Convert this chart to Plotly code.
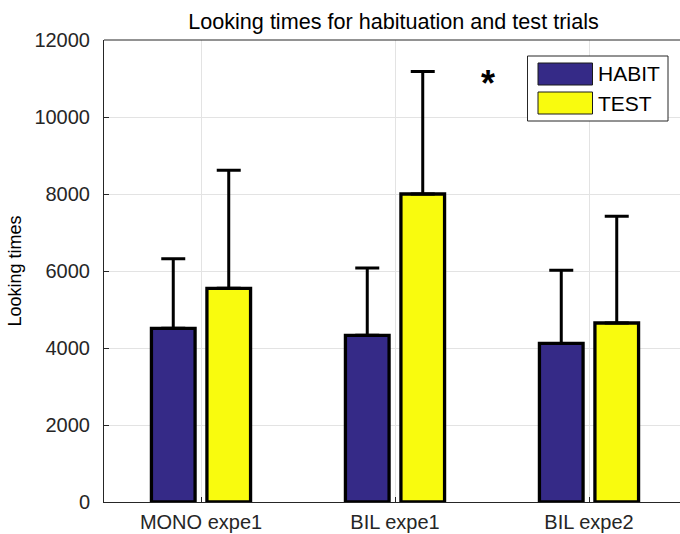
import plotly.graph_objects as go

categories = ["MONO expe1", "BIL expe1", "BIL expe2"]
series_names = ["HABIT", "TEST"]
habit_vals = [4510, 4330, 4120]
test_vals = [5550, 8000, 4650]
habit_err_top = [6320, 6080, 6020]
test_err_top = [8620, 11180, 7420]
y_ticks = [0, 2000, 4000, 6000, 8000, 10000, 12000]
star_label = "*"

colors = ["#352A87", "#F9FB0E"]
xpos = [1, 2, 3]
bar_w = 0.225
half_sep = 0.143

fig = go.Figure()
for name, vals, tops, col, sgn in [
    (series_names[0], habit_vals, habit_err_top, colors[0], -1),
    (series_names[1], test_vals, test_err_top, colors[1], 1),
]:
    fig.add_trace(go.Bar(
        x=xpos, y=vals, name=name,
        width=[bar_w] * 3,
        offset=[sgn * half_sep - bar_w / 2] * 3,
        marker=dict(color=col, line=dict(color="black", width=3.3)),
        error_y=dict(type="data", symmetric=False,
                     array=[t - v for t, v in zip(tops, vals)],
                     arrayminus=[0] * 3,
                     color="black", thickness=3, width=12),
        showlegend=False,
    ))

axis_col = "#262626"
font_family = "Liberation Sans, Arial, sans-serif"

fig.update_layout(
    width=680, height=534,
    margin=dict(l=104, r=0, t=40, b=32, autoexpand=False),
    plot_bgcolor="white", paper_bgcolor="white",
    barmode="overlay",
    font=dict(family=font_family, color=axis_col, size=20),
    title=dict(text="Looking times for habituation and test trials",
               x=393.5 / 680, xanchor="center", y=1 - 21 / 534, yanchor="middle",
               font=dict(size=21.6, color="black", family=font_family)),
    xaxis=dict(range=[0.5, 0.5 + 576 / 194], tickvals=xpos, ticktext=categories,
               showgrid=True, gridcolor="#e3e3e3", gridwidth=1,
               ticks="inside", ticklen=5, tickcolor=axis_col,
               showline=True, linecolor=axis_col, linewidth=1, automargin=False,
               zeroline=False, tickfont=dict(size=20), ticklabelstandoff=2),
    yaxis=dict(range=[0, 12000], tickvals=y_ticks, tickformat="d",
               showgrid=True, gridcolor="#e3e3e3", gridwidth=1,
               ticks="inside", ticklen=5, tickcolor=axis_col,
               showline=True, linecolor=axis_col, linewidth=1, automargin=False,
               zeroline=False, tickfont=dict(size=20), ticklabelstandoff=9,
               title=dict(text="Looking times", font=dict(size=18, color="black"), standoff=8)),
)

# top border of the box
fig.add_shape(type="line", xref="paper", yref="paper", x0=0, x1=1, y0=1, y1=1,
              line=dict(color=axis_col, width=1))

# significance marker
fig.add_annotation(x=2.48, y=11050, xref="x", yref="y", text="<b>" + star_label + "</b>",
                   showarrow=False, font=dict(size=36, color="black", family=font_family),
                   yshift=-7)

# custom legend (MATLAB style)
pw, ph = 576.0, 462.0
def px(xp):
    return (xp - 104) / pw
def py(yp):
    return (502 - yp) / ph

fig.add_shape(type="rect", xref="paper", yref="paper",
              x0=px(527.5), x1=px(668), y0=py(121), y1=py(56),
              line=dict(color=axis_col, width=1), fillcolor="white", layer="above")
for i, (name, col) in enumerate(zip(series_names, colors)):
    yc = 74 + i * 29
    fig.add_shape(type="rect", xref="paper", yref="paper",
                  x0=px(538), x1=px(592.5), y0=py(yc + 11), y1=py(yc - 11),
                  line=dict(color="#1a1a1a", width=1), fillcolor=col, layer="above")
    fig.add_annotation(x=px(596), y=py(yc), xref="paper", yref="paper",
                       text=name, showarrow=False, xanchor="left", yanchor="middle",
                       font=dict(size=21, color="black", family=font_family))

fig.write_html("out.html")
